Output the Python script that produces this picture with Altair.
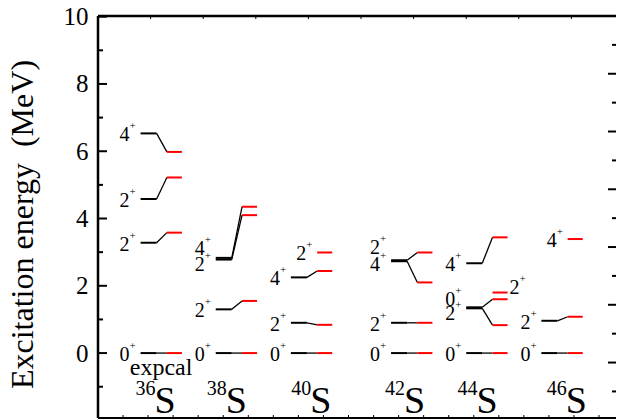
import altair as alt
import pandas as pd

W, H = 518, 402
FONT = "Liberation Serif"
RED = "#ff0000"

# ---- data -------------------------------------------------------------
nuclei = ["36S", "38S", "40S", "42S", "44S", "46S"]
mass_numbers = ["36", "38", "40", "42", "44", "46"]
nucleus_pos = [2, 5, 8, 12, 15, 18]
symbol_x = [2.26, 5.10, 8.47, 12.22, 15.11, 18.67]

lvl_nucleus = (["36S"] * 4 + ["38S"] * 4 + ["40S"] * 4 + ["42S"] * 4
               + ["44S"] * 5 + ["46S"] * 3)
lvl_spin = ["0", "2", "2", "4",
            "0", "2", "2", "4",
            "0", "2", "4", "2",
            "0", "2", "2", "4",
            "0", "2", "0", "2", "4",
            "0", "2", "4"]
lvl_exp = [0.0, 3.28, 4.58, 6.53,
           0.0, 1.30, 2.78, 2.83,
           0.0, 0.90, 2.25, None,
           0.0, 0.90, 2.76, 2.73,
           0.0, 1.33, 1.36, None, 2.67,
           0.0, 0.96, None]
lvl_cal = [0.0, 3.58, 5.22, 5.98,
           0.0, 1.55, 4.10, 4.35,
           0.0, 0.84, 2.44, 2.99,
           0.0, 0.90, 2.99, 2.10,
           0.0, 0.83, 1.60, 1.80, 3.44,
           0.0, 1.08, 3.39]
# energy at which the spin label is written (None = at the level itself)
lvl_label_E = [None, None, None, None,
               None, None, 2.69, 3.15,
               None, None, None, None,
               None, None, 3.17, 2.67,
               None, 1.23, 1.63, 1.98, None,
               None, None, None]
lvl_label_side = ["left"] * 19 + ["right"] + ["left"] * 4

left_major = [0, 2, 4, 6, 8, 10]
left_minor = [-1, 1, 3, 5, 7, 9]
right_major = [0, 1, 2, 3, 4, 5, 6, 7]
right_minor = [0.5, 1.5, 2.5, 3.5, 4.5, 5.5, 6.5]
top_ticks = [1, 2, 3, 4, 5, 6, 7, 8, 9]
bottom_ticks = list(range(1, 21))

# ---- tables -----------------------------------------------------------
df = pd.DataFrame({
    "nucleus": lvl_nucleus, "spin": lvl_spin,
    "E_exp": lvl_exp, "E_cal": lvl_cal,
    "label_E": lvl_label_E, "side": lvl_label_side,
})
posmap = dict(zip(nuclei, nucleus_pos))
df["pos"] = df["nucleus"].map(posmap)
df["exp_x1"] = df["pos"] - 0.30
df["exp_x2"] = df["pos"] + 0.34
df["cal_x1"] = df["pos"] + 0.75
df["cal_x2"] = df["pos"] + 1.35
has_exp = df["E_exp"].notna()
df["label_E"] = df["label_E"].fillna(df["E_exp"]).fillna(df["E_cal"])
df["anchor"] = df["exp_x1"].where(has_exp, df["cal_x1"])
df.loc[df["side"] == "right", "anchor"] = df["cal_x2"]
df["plus"] = "+"

exp_df = df[has_exp]
left_lab = df[df["side"] == "left"]
right_lab = df[df["side"] == "right"]

iso = pd.DataFrame({"mass": mass_numbers, "sym": ["S"] * 6,
                    "x": symbol_x, "y": [-1.78] * 6})
note = pd.DataFrame({"t": ["expcal"], "x": [nucleus_pos[0] + 0.52], "y": [-0.65]})

PX_PER_UNIT = 25.05
ydom = [-1.93, 10.02]
xdom = [0, W / PX_PER_UNIT]
XS = alt.Scale(domain=xdom, nice=False, zero=False)
YS = alt.Scale(domain=ydom, nice=False, zero=False)


def X(f):
    return alt.X(f, type="quantitative", scale=XS, axis=None)


def Y(f):
    return alt.Y(f, type="quantitative", scale=YS, axis=None)


yaxis = alt.Axis(values=left_major, labelFont=FONT, labelFontSize=25,
                 labelColor="black", labelPadding=10, ticks=True, tickSize=0,
                 domain=False, grid=False, orient="left",
                 title="Excitation energy\u00a0\u00a0(MeV)", titleFont=FONT,
                 titleFontSize=32, titleFontWeight="normal", titleColor="black",
                 titleAngle=270, titleAlign="center", titleBaseline="middle",
                 titleX=-76, titleY=208)

one = alt.Data(values=[{}])

# left major ticks carry the labelled axis
lmaj = alt.Chart(pd.DataFrame({"v": left_major})).mark_rule(
    color="black", strokeWidth=2).encode(
    x=alt.value(0), x2=alt.value(9),
    y=alt.Y("v:Q", scale=YS, axis=yaxis))
lmin = alt.Chart(pd.DataFrame({"v": left_minor})).mark_rule(
    color="black", strokeWidth=2).encode(
    x=alt.value(0), x2=alt.value(5), y=Y("v"))

frame_l = alt.Chart(one).mark_rule(color="black", strokeWidth=2.5).encode(
    x=alt.value(0), y=alt.value(0), y2=alt.value(H))
frame_t = alt.Chart(one).mark_rule(color="black", strokeWidth=2.5).encode(
    x=alt.value(0), x2=alt.value(W), y=alt.value(0))
frame_b = alt.Chart(one).mark_rule(color="black", strokeWidth=2).encode(
    x=alt.value(0), x2=alt.value(W), y=alt.value(H))
bt = alt.Chart(pd.DataFrame({"v": bottom_ticks})).mark_rule(
    color="black", strokeWidth=1).encode(
    x=X("v"), y=alt.value(H - 3), y2=alt.value(H))

exp_lines = alt.Chart(exp_df).mark_rule(color="black", strokeWidth=2).encode(
    x=X("exp_x1"), x2="exp_x2", y=Y("E_exp"))
connectors = alt.Chart(exp_df).mark_rule(color="black", strokeWidth=1.3).encode(
    x=X("exp_x2"), x2="cal_x1", y=Y("E_exp"), y2="E_cal")
cal_lines = alt.Chart(df).mark_rule(color=RED, strokeWidth=2).encode(
    x=X("cal_x1"), x2="cal_x2", y=Y("E_cal"))

lab_l = alt.Chart(left_lab).mark_text(font=FONT, fontSize=20, align="right",
                                      baseline="middle", dx=-11, dy=2,
                                      color="black").encode(
    x=X("anchor"), y=Y("label_E"), text="spin:N")
plus_l = alt.Chart(left_lab).mark_text(font=FONT, fontSize=11, align="left",
                                       baseline="middle", dx=-11, dy=-7,
                                       color="black").encode(
    x=X("anchor"), y=Y("label_E"), text="plus:N")
lab_r = alt.Chart(right_lab).mark_text(font=FONT, fontSize=20, align="left",
                                       baseline="middle", dx=2, dy=2,
                                       color="black").encode(
    x=X("anchor"), y=Y("label_E"), text="spin:N")
plus_r = alt.Chart(right_lab).mark_text(font=FONT, fontSize=11, align="left",
                                        baseline="middle", dx=12, dy=-7,
                                        color="black").encode(
    x=X("anchor"), y=Y("label_E"), text="plus:N")

sym = alt.Chart(iso).mark_text(font=FONT, fontSize=38, align="left",
                               baseline="alphabetic", color="black").encode(
    x=X("x"), y=Y("y"), text="sym:N")
massn = alt.Chart(iso).mark_text(font=FONT, fontSize=20, align="right",
                                 baseline="alphabetic", dx=1, dy=-18,
                                 color="black").encode(
    x=X("x"), y=Y("y"), text="mass:N")
note_t = alt.Chart(note).mark_text(font=FONT, fontSize=24, align="center",
                                   baseline="alphabetic", color="black").encode(
    x=X("x"), y=Y("y"), text="t:N")

# right-hand ticks (own scale) and top ticks (own scale)
RS = alt.Scale(domain=[0.04, 7], nice=False, zero=False)
rmaj = alt.Chart(pd.DataFrame({"v": right_major})).mark_rule(
    color="black", strokeWidth=2).encode(
    x=alt.value(W - 8), x2=alt.value(W),
    y=alt.Y("v:Q", scale=RS, axis=None))
rmin = alt.Chart(pd.DataFrame({"v": right_minor})).mark_rule(
    color="black", strokeWidth=2).encode(
    x=alt.value(W - 4), x2=alt.value(W),
    y=alt.Y("v:Q", scale=RS, axis=None))

TS = alt.Scale(domain=[0, W / 52.6], nice=False, zero=False)
topt = alt.Chart(pd.DataFrame({"v": top_ticks})).mark_rule(
    color="black", strokeWidth=1).encode(
    x=alt.X("v:Q", scale=TS, axis=None), y=alt.value(0), y2=alt.value(3))

chart = alt.layer(
    lmaj, lmin, frame_l, frame_t, frame_b, bt,
    exp_lines, connectors, cal_lines,
    lab_l, plus_l, lab_r, plus_r, sym, massn, note_t,
    rmaj, rmin, topt,
).resolve_scale(
    x="independent", y="independent"
).properties(
    width=W, height=H, autosize="none",
    padding={"left": 90, "top": 8, "right": 0, "bottom": 1},
).configure(background="white").configure_view(stroke=None)

chart.save("out.html", embed_options={"renderer": "svg", "actions": False})
